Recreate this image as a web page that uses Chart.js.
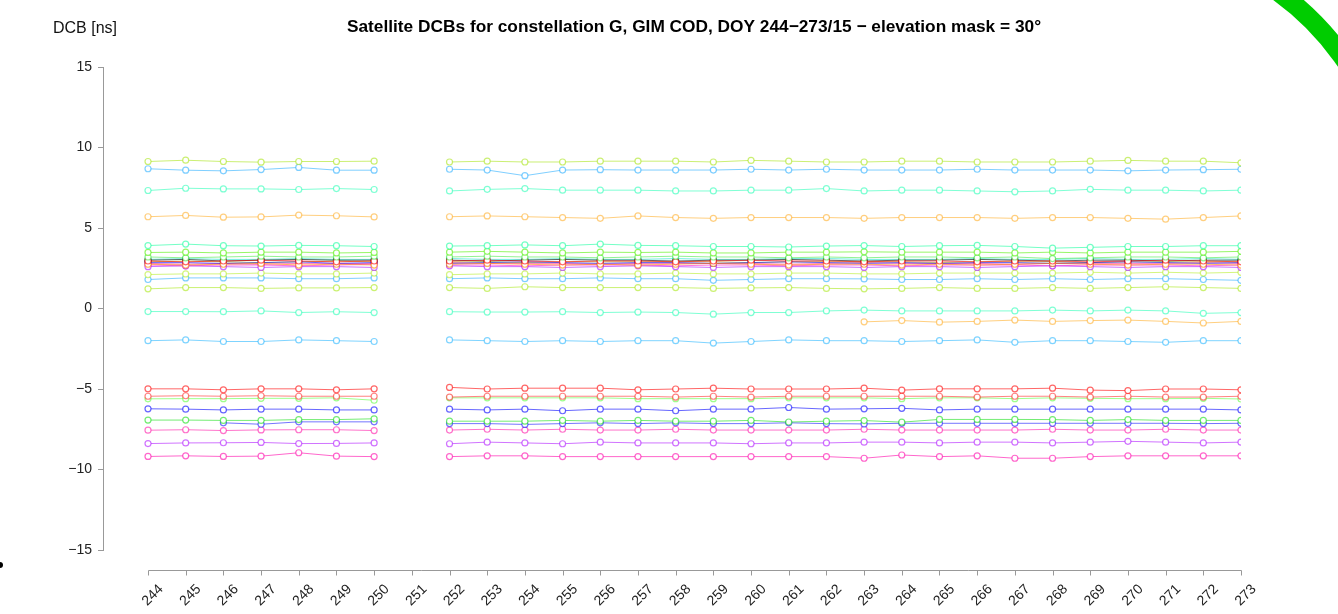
<!DOCTYPE html>
<html>
<head>
<meta charset="utf-8">
<script src="https://cdn.jsdelivr.net/npm/chart.js@4.4.1/dist/chart.umd.min.js"></script>
<style>
html,body{margin:0;padding:0;background:#fff;}
canvas{display:block;}
</style>
</head>
<body>
<canvas id="c" width="1338" height="614"></canvas>
<script>
// ---- data ----
const days = [244,245,246,247,248,249,250,251,252,253,254,255,256,257,258,259,260,261,262,263,264,265,266,267,268,269,270,271,272,273];
const yTicks = [-15,-10,-5,0,5,10,15];
const titleText = "Satellite DCBs for constellation G, GIM COD, DOY 244\u2212273/15 \u2212 elevation mask = 30\u00b0";
const yLabel = "DCB [ns]";

const s01 = [9.13,9.21,9.13,9.09,9.13,9.13,9.15,null,9.1,9.15,9.1,9.1,9.15,9.15,9.15,9.1,9.2,9.15,9.1,9.1,9.15,9.15,9.1,9.1,9.1,9.15,9.2,9.15,9.15,9.05];
const s02 = [8.68,8.59,8.55,8.63,8.76,8.59,8.59,null,8.65,8.6,8.25,8.6,8.62,8.6,8.6,8.6,8.65,8.6,8.65,8.6,8.6,8.6,8.65,8.6,8.6,8.6,8.55,8.6,8.62,8.65];
const s03 = [7.33,7.47,7.43,7.43,7.39,7.45,7.39,null,7.3,7.4,7.45,7.35,7.35,7.35,7.3,7.3,7.35,7.35,7.45,7.3,7.35,7.35,7.3,7.25,7.3,7.4,7.35,7.35,7.3,7.35];
const s04 = [5.7,5.78,5.67,5.69,5.8,5.76,5.69,null,5.7,5.75,5.7,5.65,5.6,5.75,5.65,5.6,5.65,5.65,5.65,5.6,5.65,5.65,5.65,5.6,5.65,5.65,5.6,5.55,5.65,5.75];
const s05 = [3.91,4.0,3.9,3.88,3.92,3.9,3.85,null,3.88,3.9,3.95,3.9,4.0,3.92,3.9,3.85,3.85,3.82,3.88,3.91,3.85,3.9,3.92,3.85,3.75,3.8,3.85,3.85,3.9,3.9];
const s06 = [3.48,3.5,3.45,3.5,3.5,3.45,3.48,null,3.5,3.55,3.5,3.45,3.5,3.48,3.5,3.45,3.45,3.5,3.5,3.52,3.5,3.5,3.5,3.45,3.5,3.45,3.5,3.5,3.5,3.55];
const s07 = [3.2,3.15,3.2,3.25,3.2,3.2,3.25,null,3.2,3.25,3.2,3.2,3.15,3.2,3.25,3.2,3.2,3.15,3.2,3.15,3.2,3.2,3.15,3.2,3.1,3.15,3.2,3.2,3.15,3.2];
const c01 = [2.95,2.9,2.95,3.0,2.95,2.9,2.95,null,2.95,3.0,2.95,2.9,2.95,2.95,2.9,2.95,3.0,2.95,2.95,2.9,2.95,2.95,2.9,2.95,2.95,2.9,2.95,3.0,2.95,2.9];
const c02 = [2.75,2.7,2.75,2.8,2.7,2.75,2.7,null,2.75,2.8,2.75,2.7,2.75,2.7,2.75,2.8,2.75,2.7,2.75,2.75,2.7,2.75,2.7,2.75,2.8,2.75,2.7,2.75,2.75,2.7];
const c03 = [3.0,3.05,2.95,3.0,3.05,3.0,3.0,null,3.0,2.95,3.0,3.05,3.0,3.0,2.95,3.0,3.0,3.05,3.0,2.95,3.0,3.0,3.05,3.0,2.95,3.0,3.0,2.95,3.0,3.0];
const c04 = [2.85,2.85,2.8,2.85,2.9,2.8,2.85,null,2.8,2.85,2.9,2.85,2.8,2.85,2.85,2.8,2.85,2.9,2.85,2.8,2.85,2.8,2.85,2.85,2.8,2.85,2.9,2.85,2.8,2.85];
const c05 = [2.6,2.65,2.6,2.55,2.6,2.6,2.55,null,2.65,2.6,2.6,2.55,2.6,2.65,2.6,2.55,2.6,2.6,2.6,2.55,2.6,2.6,2.55,2.6,2.65,2.6,2.55,2.6,2.6,2.55];
const c06 = [2.7,2.65,2.7,2.7,2.65,2.7,2.75,null,2.7,2.7,2.65,2.7,2.7,2.7,2.65,2.7,2.7,2.65,2.7,2.7,2.65,2.7,2.7,2.7,2.65,2.7,2.7,2.7,2.65,2.7];
const c07 = [3.05,3.1,3.05,3.05,3.1,3.05,3.05,null,3.1,3.05,3.05,3.1,3.05,3.05,3.1,3.05,3.05,3.1,3.1,3.05,3.05,3.05,3.1,3.05,3.05,3.1,3.05,3.05,3.1,3.05];
const c08 = [2.9,2.95,2.9,2.85,2.9,2.95,2.9,null,2.9,2.9,2.85,2.9,2.9,2.9,2.9,2.9,2.85,2.9,2.9,2.9,2.9,2.85,2.9,2.9,2.9,2.85,2.9,2.9,2.9,2.9];
const c09 = [2.8,2.75,2.8,2.75,2.8,2.8,2.8,null,2.85,2.8,2.8,2.8,2.75,2.8,2.8,2.8,2.8,2.75,2.8,2.85,2.8,2.8,2.8,2.75,2.8,2.8,2.8,2.8,2.85,2.8];
const s08 = [2.11,2.15,2.15,2.2,2.15,2.15,2.2,null,2.1,2.15,2.15,2.2,2.15,2.15,2.2,2.15,2.15,2.2,2.2,2.15,2.15,2.2,2.2,2.2,2.2,2.25,2.2,2.25,2.2,2.25];
const s09 = [1.8,1.9,1.9,1.9,1.85,1.85,1.9,null,1.85,1.9,1.85,1.85,1.9,1.85,1.85,1.75,1.8,1.85,1.85,1.84,1.8,1.8,1.85,1.8,1.85,1.8,1.85,1.85,1.8,1.75];
const s10 = [1.22,1.3,1.3,1.25,1.28,1.28,1.3,null,1.3,1.25,1.35,1.3,1.3,1.3,1.3,1.25,1.28,1.3,1.25,1.22,1.25,1.3,1.25,1.25,1.3,1.25,1.3,1.35,1.3,1.25];
const s11 = [-0.19,-0.19,-0.2,-0.15,-0.25,-0.2,-0.25,null,-0.2,-0.22,-0.22,-0.2,-0.25,-0.22,-0.25,-0.35,-0.25,-0.25,-0.15,-0.1,-0.15,-0.15,-0.15,-0.15,-0.1,-0.15,-0.1,-0.15,-0.3,-0.25];
const s12 = [null,null,null,null,null,null,null,null,null,null,null,null,null,null,null,null,null,null,null,-0.83,-0.75,-0.85,-0.8,-0.72,-0.8,-0.75,-0.72,-0.8,-0.9,-0.8];
const s13 = [-2.0,-1.95,-2.05,-2.05,-1.95,-2.0,-2.05,null,-1.95,-2.0,-2.05,-2.0,-2.05,-2.0,-2.0,-2.15,-2.05,-1.95,-2.0,-2.0,-2.05,-2.0,-1.95,-2.1,-2.0,-2.0,-2.05,-2.1,-2.0,-2.0];
const s14 = [-4.99,-4.99,-5.05,-4.99,-4.99,-5.05,-4.99,null,-4.9,-5.0,-4.95,-4.95,-4.95,-5.05,-5.0,-4.95,-5.0,-5.0,-5.0,-4.95,-5.07,-4.99,-4.99,-4.99,-4.95,-5.07,-5.1,-5.0,-5.0,-5.05];
const s15 = [-5.45,-5.42,-5.45,-5.42,-5.45,-5.45,-5.45,null,-5.5,-5.45,-5.45,-5.45,-5.45,-5.45,-5.5,-5.45,-5.5,-5.45,-5.45,-5.45,-5.45,-5.45,-5.5,-5.45,-5.45,-5.5,-5.45,-5.5,-5.5,-5.45];
const s16 = [-5.61,-5.6,-5.6,-5.58,-5.58,-5.55,-5.7,null,-5.55,-5.55,-5.55,-5.55,-5.55,-5.6,-5.6,-5.6,-5.6,-5.55,-5.55,-5.55,-5.6,-5.55,-5.55,-5.6,-5.55,-5.58,-5.6,-5.6,-5.58,-5.62];
const s17 = [-6.23,-6.25,-6.3,-6.25,-6.25,-6.3,-6.3,null,-6.25,-6.3,-6.25,-6.35,-6.25,-6.25,-6.35,-6.25,-6.25,-6.15,-6.25,-6.23,-6.2,-6.3,-6.25,-6.25,-6.25,-6.25,-6.25,-6.25,-6.25,-6.3];
const s18 = [-6.93,-6.93,-6.95,-6.95,-6.9,-6.9,-6.85,null,-7.0,-7.0,-7.0,-6.95,-7.0,-6.95,-7.0,-7.0,-6.95,-7.05,-7.0,-6.96,-7.06,-6.89,-6.89,-6.89,-6.9,-6.95,-6.9,-6.95,-6.95,-6.95];
const s19 = [null,null,-7.1,-7.19,-7.04,-7.04,-7.04,null,-7.15,-7.15,-7.2,-7.15,-7.1,-7.15,-7.1,-7.15,-7.15,-7.1,-7.15,-7.17,-7.13,-7.13,-7.13,-7.13,-7.13,-7.13,-7.13,-7.13,-7.15,-7.13];
const s20 = [-7.56,-7.53,-7.58,-7.54,-7.53,-7.53,-7.58,null,-7.55,-7.5,-7.55,-7.5,-7.55,-7.55,-7.5,-7.55,-7.55,-7.55,-7.55,-7.5,-7.55,-7.55,-7.55,-7.55,-7.5,-7.55,-7.55,-7.5,-7.55,-7.55];
const s21 = [-8.39,-8.35,-8.34,-8.32,-8.39,-8.38,-8.35,null,-8.4,-8.3,-8.35,-8.4,-8.3,-8.35,-8.35,-8.35,-8.4,-8.35,-8.35,-8.3,-8.3,-8.35,-8.3,-8.3,-8.35,-8.3,-8.25,-8.3,-8.35,-8.3];
const s22 = [-9.19,-9.15,-9.19,-9.17,-8.96,-9.17,-9.2,null,-9.2,-9.15,-9.15,-9.2,-9.2,-9.2,-9.2,-9.2,-9.2,-9.2,-9.2,-9.3,-9.1,-9.2,-9.15,-9.3,-9.3,-9.2,-9.15,-9.15,-9.15,-9.15];

const seriesList = [s01,s02,s03,s04,s05,s06,s07,c01,c02,c03,c04,c05,c06,c07,c08,c09,s08,s09,s10,s11,s12,s13,s14,s15,s16,s17,s18,s19,s20,s21,s22];
const seriesColors = [
  'rgba(160,225,0,0.55)','rgba(0,160,255,0.5)','rgba(0,255,170,0.5)','rgba(255,160,0,0.5)',
  'rgba(0,255,150,0.55)','rgba(80,240,0,0.6)','rgba(40,230,40,0.5)',
  'rgba(255,0,0,0.6)','rgba(255,140,0,0.6)','rgba(0,0,0,0.6)','rgba(0,0,255,0.6)','rgba(160,0,255,0.55)',
  'rgba(255,0,200,0.55)','rgba(0,220,200,0.55)','rgba(170,170,0,0.55)','rgba(255,0,120,0.5)',
  'rgba(170,235,0,0.5)','rgba(0,160,255,0.5)','rgba(160,230,0,0.55)','rgba(0,255,170,0.5)','rgba(255,160,0,0.5)','rgba(0,170,255,0.5)',
  'rgba(255,0,0,0.6)','rgba(255,30,30,0.55)','rgba(40,255,0,0.45)','rgba(0,0,255,0.6)','rgba(0,220,0,0.55)','rgba(0,0,255,0.55)',
  'rgba(255,0,160,0.55)','rgba(170,0,255,0.55)','rgba(255,0,170,0.6)'
];

const FONT = "'Liberation Sans', Arial, Helvetica, sans-serif";

const datasets = seriesList.map((vals, i) => ({
  data: days.map((d, j) => ({x: d, y: vals[j]})),
  borderColor: seriesColors[i],
  pointBorderColor: seriesColors[i],
  pointBackgroundColor: 'rgba(255,255,255,1)',
  borderWidth: 1,
  pointRadius: 3,
  pointBorderWidth: 1.2,
  spanGaps: false,
  tension: 0
}));

const decor = {
  id: 'decor',
  afterDraw(chart) {
    const ctx = chart.ctx;
    const xs = chart.scales.x;
    ctx.save();
    // detached x axis
    ctx.strokeStyle = '#999';
    ctx.lineWidth = 1;
    ctx.beginPath();
    const yAx = 570.5;
    const p0 = Math.round(xs.getPixelForValue(days[0])) + 0.5;
    const p1 = Math.round(xs.getPixelForValue(days[days.length - 1])) + 0.5;
    ctx.moveTo(p0, yAx); ctx.lineTo(p1, yAx);
    days.forEach(d => {
      const p = Math.round(xs.getPixelForValue(d)) + 0.5;
      ctx.moveTo(p, yAx); ctx.lineTo(p, yAx + 5);
    });
    ctx.stroke();
    // title
    ctx.fillStyle = '#000';
    ctx.font = 'bold 17.3px ' + FONT;
    ctx.textAlign = 'center';
    ctx.textBaseline = 'alphabetic';
    ctx.fillText(titleText, 694, 32);
    // y label
    ctx.font = '16px ' + FONT;
    ctx.fillStyle = '#111';
    ctx.textAlign = 'left';
    ctx.fillText(yLabel, 53, 33);
    // green arc in corner
    ctx.strokeStyle = '#00cc00';
    ctx.lineWidth = 19;
    ctx.beginPath();
    ctx.arc(1116, 217, 277.5, -Math.PI * 0.5, -Math.PI * 0.1);
    ctx.stroke();
    // small black dot at left edge
    ctx.fillStyle = '#000';
    ctx.beginPath();
    ctx.arc(0, 565, 3, 0, Math.PI * 2);
    ctx.fill();
    ctx.restore();
  }
};

new Chart(document.getElementById('c'), {
  type: 'line',
  data: { datasets },
  options: {
    responsive: false,
    animation: false,
    layout: { padding: { left: 0, right: 97, top: 67, bottom: 0 } },
    plugins: { legend: { display: false }, title: { display: false }, tooltip: { enabled: false } },
    scales: {
      x: {
        type: 'linear',
        min: 242.806,
        max: 273,
        afterBuildTicks: s => { s.ticks = days.map(v => ({ value: v })); },
        afterFit: s => { s.height = 64; },
        grid: { display: false },
        border: { display: false },
        ticks: {
          autoSkip: false, minRotation: 45, maxRotation: 45,
          labelOffset: 13, padding: 23,
          color: '#222', font: { family: FONT, size: 14 },
          callback: v => String(v)
        }
      },
      y: {
        min: -15,
        max: 15,
        afterBuildTicks: s => { s.ticks = yTicks.map(v => ({ value: v })); },
        afterFit: s => { s.width = 103; },
        grid: { drawOnChartArea: false, drawTicks: true, tickLength: 5, color: '#999' },
        border: { display: true, color: '#999' },
        ticks: {
          padding: 6, color: '#222', font: { family: FONT, size: 14 },
          callback: v => v < 0 ? '\u2212' + Math.abs(v) : String(v)
        }
      }
    }
  },
  plugins: [decor]
});
</script>
</body>
</html>
